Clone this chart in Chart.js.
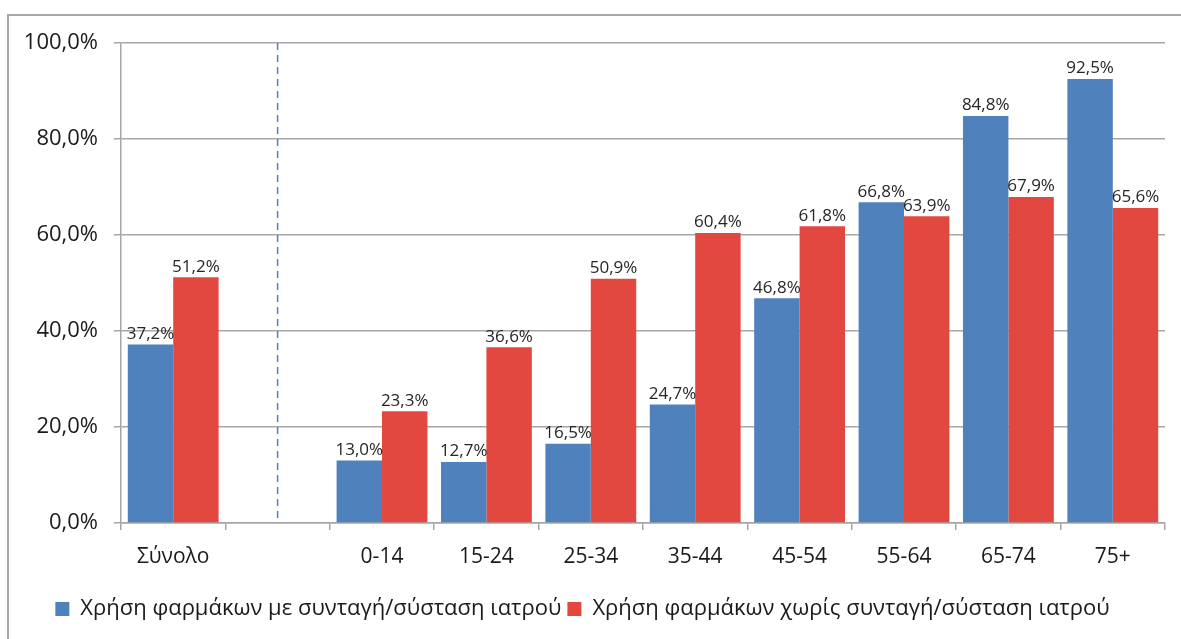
<!DOCTYPE html>
<html>
<head>
<meta charset="utf-8">
<script src="https://cdn.jsdelivr.net/npm/chart.js@4/dist/chart.umd.min.js"></script>
<style>
  html, body { margin: 0; padding: 0; background: #fff; }
  #wrap { width: 1181px; height: 639px; position: relative; }
</style>
</head>
<body>
<div id="wrap"><canvas id="drugsChart"></canvas></div>
<script>
// categories (second slot is an empty spacer after the total)
const categories = ['Σύνολο', '', '0-14', '15-24', '25-34', '35-44', '45-54', '55-64', '65-74', '75+'];
const withPrescription = [37.2, null, 13.0, 12.7, 16.5, 24.7, 46.8, 66.8, 84.8, 92.5];
const withoutPrescription = [51.2, null, 23.3, 36.6, 50.9, 60.4, 61.8, 63.9, 67.9, 65.6];
const seriesNames = [
    'Χρήση φαρμάκων με συνταγή/σύσταση ιατρού',
    'Χρήση φαρμάκων χωρίς συνταγή/σύσταση ιατρού'
];

const BLUE = '#4f81bd';
const RED = '#e2483f';
const GRID = '#a6a6a6';
const FONT = "'Open Sans', sans-serif";

const fmt = v => v.toFixed(1).replace('.', ',') + '%';

// grey frame round the whole picture
const framePlugin = {
    id: 'frame',
    beforeDraw(chart) {
        const ctx = chart.ctx;
        ctx.save();
        ctx.strokeStyle = '#a8a8a8';
        ctx.lineWidth = 2;
        ctx.strokeRect(8, 15, chart.width + 20, chart.height + 20);
        ctx.restore();
    }
};

// dashed separator in the middle of the empty category
const separatorPlugin = {
    id: 'separator',
    beforeDatasetsDraw(chart) {
        const ctx = chart.ctx;
        const x = chart.scales.x.getPixelForValue(1);
        const area = chart.chartArea;
        ctx.save();
        ctx.strokeStyle = BLUE;
        ctx.lineWidth = 1.5;
        ctx.setLineDash([7, 5]);
        ctx.beginPath();
        ctx.moveTo(x, area.top);
        ctx.lineTo(x, area.bottom);
        ctx.stroke();
        ctx.restore();
    }
};

// value labels above every bar
const valueLabels = {
    id: 'valueLabels',
    afterDatasetsDraw(chart) {
        const ctx = chart.ctx;
        ctx.save();
        ctx.font = "17px " + FONT;
        ctx.fillStyle = '#262626';
        ctx.textAlign = 'center';
        ctx.textBaseline = 'bottom';
        chart.data.datasets.forEach((ds, i) => {
            const meta = chart.getDatasetMeta(i);
            meta.data.forEach((bar, j) => {
                const v = ds.data[j];
                if (v === null) return;
                ctx.fillText(fmt(v), bar.x, bar.y - 2);
            });
        });
        ctx.restore();
    }
};

const ctx = document.getElementById('drugsChart').getContext('2d');
new Chart(ctx, {
    type: 'bar',
    data: {
        labels: categories,
        datasets: [
            {
                label: seriesNames[0],
                data: withPrescription,
                backgroundColor: BLUE,
                categoryPercentage: 0.87,
                barPercentage: 1.0
            },
            {
                label: seriesNames[1],
                data: withoutPrescription,
                backgroundColor: RED,
                categoryPercentage: 0.87,
                barPercentage: 1.0
            }
        ]
    },
    options: {
        responsive: true,
        maintainAspectRatio: false,
        animation: false,
        layout: {
            padding: { left: 0, top: 43, right: 16, bottom: 9 }
        },
        plugins: {
            tooltip: { enabled: false },
            legend: {
                position: 'bottom',
                labels: {
                    boxWidth: 14,
                    boxHeight: 14,
                    padding: 6,
                    color: '#1a1a1a',
                    font: { family: FONT, size: 22 }
                }
            }
        },
        scales: {
            x: {
                afterFit(scale) { scale.height = 69; },
                grid: {
                    drawOnChartArea: false,
                    drawTicks: true,
                    tickLength: 7,
                    color: GRID,
                    lineWidth: 1.5
                },
                border: { color: GRID, width: 1.5 },
                ticks: {
                    padding: 14,
                    color: '#1a1a1a',
                    font: { family: FONT, size: 21 }
                }
            },
            y: {
                min: 0,
                max: 100,
                afterFit(scale) { scale.width = 121; },
                grid: {
                    tickLength: 7,
                    color: GRID,
                    lineWidth: 1.5
                },
                border: { color: GRID, width: 1.5 },
                ticks: {
                    stepSize: 20,
                    padding: 16,
                    color: '#1a1a1a',
                    font: { family: FONT, size: 22 },
                    callback: v => fmt(v)
                }
            }
        }
    },
    plugins: [framePlugin, separatorPlugin, valueLabels]
});
</script>
</body>
</html>
